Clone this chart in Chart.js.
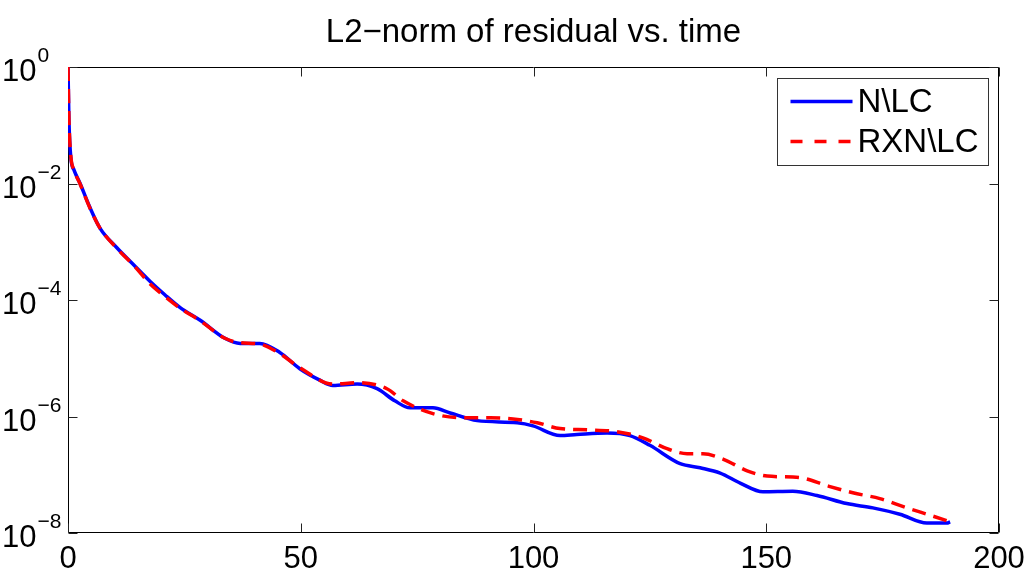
<!DOCTYPE html>
<html>
<head>
<meta charset="utf-8">
<script src="https://cdn.jsdelivr.net/npm/chart.js@4"></script>
<style>
  html, body { margin: 0; padding: 0; background: #fff; }
  #wrap { width: 1033px; height: 570px; }
</style>
</head>
<body>
<div id="wrap"><canvas id="c" width="1033" height="570"></canvas></div>
<script>
// ---- data ----
const titleText = 'L2\u2212norm of residual vs. time';
const seriesNames = ['N\\LC', 'RXN\\LC'];

const timeN = [0, 0.2, 0.6, 1.3, 2.6, 4.7, 6.9, 10.5, 14.4, 17.6, 20.8, 24.1, 28.4, 33.7, 37.0, 41.2, 45.5, 49.8, 54.1, 56.9, 62.1, 66.4, 70.2, 73.5, 78.4, 82.1, 87.9, 96.5, 99.9, 105.7, 109.3, 115.8, 120.7, 125.0, 131.5, 135.8, 140.1, 144.4, 149.3, 155.7, 160.9, 167.3, 172.9, 178.7, 184.5, 188.8, 189.5];
const residN = [1, 0.123, 0.028, 0.017, 0.010, 3.9e-3, 1.7e-3, 7.9e-4, 3.8e-4, 2.1e-4, 1.23e-4, 7.4e-5, 4.5e-5, 2.2e-5, 1.8e-5, 1.8e-5, 1.26e-5, 6.6e-6, 4.2e-6, 3.4e-6, 3.6e-6, 3.0e-6, 1.86e-6, 1.41e-6, 1.41e-6, 1.15e-6, 8.5e-7, 7.8e-7, 6.9e-7, 4.7e-7, 4.9e-7, 5.2e-7, 4.7e-7, 3.2e-7, 1.55e-7, 1.32e-7, 1.07e-7, 7.2e-8, 5.1e-8, 5.2e-8, 4.4e-8, 3.2e-8, 2.7e-8, 2.1e-8, 1.48e-8, 1.48e-8, 1.55e-8];

const timeR = [0, 0.2, 0.6, 1.3, 2.6, 4.7, 6.9, 10.5, 14.4, 17.6, 20.8, 24.1, 28.4, 33.7, 37.0, 41.2, 45.5, 49.8, 56.9, 62.3, 68.5, 72.0, 78.4, 84.9, 90.7, 95.6, 100.8, 105.7, 111.5, 117.9, 123.5, 128.7, 133.0, 136.4, 140.7, 145.9, 150.2, 157.3, 163.0, 168.6, 174.4, 180.2, 185.8, 189.5];
const residR = [1, 0.13, 0.03, 0.017, 0.0098, 3.8e-3, 1.7e-3, 7.7e-4, 3.7e-4, 1.9e-4, 1.15e-4, 7.2e-5, 4.4e-5, 2.2e-5, 1.85e-5, 1.75e-5, 1.2e-5, 6.9e-6, 3.6e-6, 3.8e-6, 3.0e-6, 1.86e-6, 1.12e-6, 9.5e-7, 9.5e-7, 9.1e-7, 7.8e-7, 6.2e-7, 5.9e-7, 5.5e-7, 4.3e-7, 2.8e-7, 2.3e-7, 2.3e-7, 1.86e-7, 1.17e-7, 9.5e-8, 8.9e-8, 6.5e-8, 4.9e-8, 3.9e-8, 2.7e-8, 1.95e-8, 1.55e-8];

const xTickValues = [0, 50, 100, 150, 200];
const xTickLabels = ['0', '50', '100', '150', '200'];
const yTickValues = [1, 1e-2, 1e-4, 1e-6, 1e-8];
const yTickBase = '10';
const yTickExponents = ['0', '\u22122', '\u22124', '\u22126', '\u22128'];

// ---- drawing ----
const FONT = '"Liberation Sans", Arial, Helvetica, sans-serif';

const matlabAxes = {
  id: 'matlabAxes',
  beforeDatasetsDraw(chart) {
    const { ctx, chartArea: a, scales } = chart;
    const xs = scales.x, ys = scales.y;
    const L = Math.round(a.left) + 0.5, R = Math.round(a.right) - 0.5;
    const T = Math.round(a.top) + 0.5, B = Math.round(a.bottom) - 0.5;
    ctx.save();
    ctx.strokeStyle = '#000';
    ctx.lineWidth = 1;
    ctx.beginPath();
    ctx.rect(L, T, R - L, B - T);
    ctx.stroke();
    const tl = 9;
    ctx.strokeStyle = '#222';
    ctx.beginPath();
    xTickValues.forEach(v => {
      const p = Math.round(xs.getPixelForValue(v)) + 0.5;
      ctx.moveTo(p, B); ctx.lineTo(p, B - tl);
      ctx.moveTo(p, T); ctx.lineTo(p, T + tl);
    });
    yTickValues.forEach(v => {
      const p = Math.round(ys.getPixelForValue(v)) + 0.5;
      ctx.moveTo(L, p); ctx.lineTo(L + tl, p);
      ctx.moveTo(R, p); ctx.lineTo(R - tl, p);
    });
    ctx.stroke();
    ctx.restore();
  },
  afterDraw(chart) {
    const { ctx, chartArea: a, scales } = chart;
    const xs = scales.x, ys = scales.y;
    ctx.save();
    ctx.fillStyle = '#000';
    // x tick labels
    ctx.font = '31px ' + FONT;
    ctx.textAlign = 'center';
    ctx.textBaseline = 'alphabetic';
    xTickValues.forEach((v, i) => {
      ctx.fillText(xTickLabels[i], xs.getPixelForValue(v), a.bottom + 35);
    });
    // y tick labels (10 with superscript exponent)
    ctx.textAlign = 'left';
    yTickValues.forEach((v, i) => {
      const p = ys.getPixelForValue(v);
      ctx.font = '31px ' + FONT;
      ctx.fillText(yTickBase, 2, p + 14);
      const w = ctx.measureText(yTickBase).width;
      ctx.font = '21px ' + FONT;
      ctx.fillText(yTickExponents[i], 2 + w + 1, p - 5);
    });
    // legend
    const bx = Math.round(a.right) - 222 + 0.5, by = Math.round(a.top) + 11 + 0.5;
    const bw = 211, bh = 87;
    ctx.fillStyle = '#fff';
    ctx.fillRect(bx, by, bw, bh);
    ctx.strokeStyle = '#333';
    ctx.lineWidth = 1;
    ctx.strokeRect(bx, by, bw, bh);
    const rows = [by + 23, by + 63];
    chart.data.datasets.forEach((ds, i) => {
      const yy = rows[i];
      ctx.strokeStyle = ds.borderColor;
      ctx.lineWidth = ds.borderWidth;
      ctx.setLineDash(i === 1 ? [12, 12] : []);
      ctx.beginPath();
      ctx.moveTo(bx + 13, yy);
      ctx.lineTo(bx + 75, yy);
      ctx.stroke();
      ctx.setLineDash([]);
      ctx.fillStyle = '#000';
      ctx.font = '33px ' + FONT;
      ctx.textAlign = 'left';
      ctx.textBaseline = 'middle';
      ctx.fillText(ds.label, bx + 80, yy + 1);
    });
    ctx.restore();
  }
};

new Chart(document.getElementById('c'), {
  type: 'line',
  data: {
    datasets: [
      {
        label: seriesNames[0],
        data: timeN.map((t, i) => ({ x: t, y: residN[i] })),
        borderColor: '#0000ff',
        borderWidth: 3.5,
        pointRadius: 0,
        cubicInterpolationMode: 'monotone',
        fill: false,
        order: 1
      },
      {
        label: seriesNames[1],
        data: timeR.map((t, i) => ({ x: t, y: residR[i] })),
        borderColor: '#ff0000',
        borderWidth: 3.5,
        borderDash: [14, 8],
        pointRadius: 0,
        cubicInterpolationMode: 'monotone',
        fill: false,
        order: 0
      }
    ]
  },
  options: {
    responsive: false,
    animation: false,
    devicePixelRatio: 1,
    layout: { padding: { left: 68, right: 34, top: 0, bottom: 37 } },
    plugins: {
      legend: { display: false },
      tooltip: { enabled: false },
      title: {
        display: true,
        text: titleText,
        color: '#000',
        font: { family: FONT, size: 33, weight: 'normal', lineHeight: 1.2 },
        padding: { top: 13, bottom: 14.4 }
      }
    },
    scales: {
      x: { type: 'linear', min: 0, max: 200, display: false },
      y: { type: 'logarithmic', min: 1e-8, max: 1, display: false }
    }
  },
  plugins: [matlabAxes]
});
</script>
</body>
</html>
